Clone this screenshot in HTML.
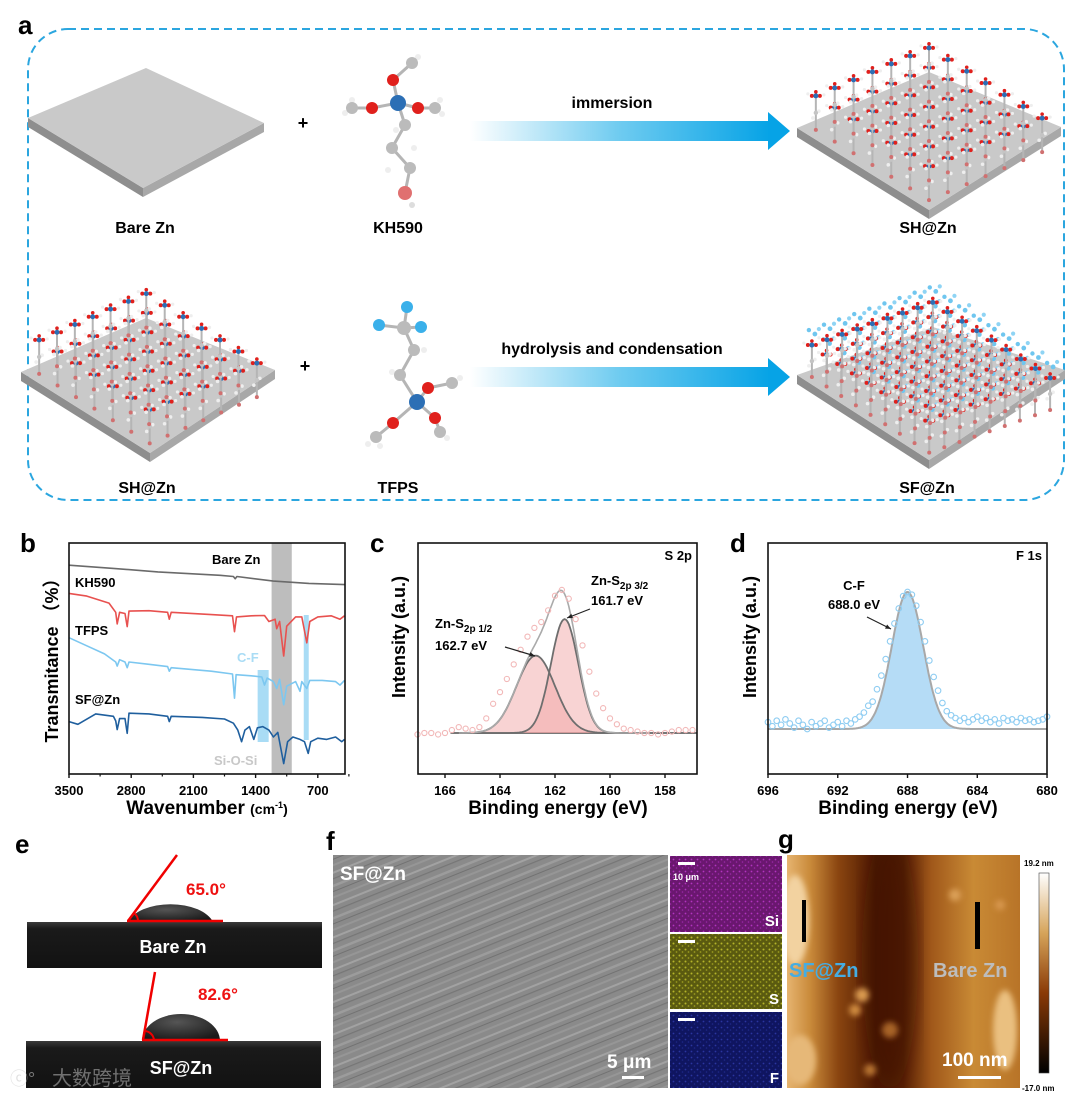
<!DOCTYPE html>
<html><head><meta charset="utf-8"><style>
html,body{margin:0;padding:0;background:#fff;}
svg{display:block;font-family:"Liberation Sans","Noto Sans CJK SC",sans-serif;}
.b{font-weight:bold;}
</style></head><body>
<svg id="fig" width="1080" height="1099" viewBox="0 0 1080 1099" xmlns="http://www.w3.org/2000/svg">
<defs>
<linearGradient id="arrowGrad" x1="0" x2="1" y1="0" y2="0"><stop offset="0" stop-color="#ffffff"/><stop offset="0.5" stop-color="#6ecbf0"/><stop offset="1" stop-color="#06a3e6"/></linearGradient>
<linearGradient id="afmGrad" x1="0" x2="1" y1="0" y2="0">
<stop offset="0" stop-color="#e6b470"/><stop offset="0.1" stop-color="#c98a3a"/><stop offset="0.22" stop-color="#8a4510"/><stop offset="0.38" stop-color="#4e1a02"/><stop offset="0.5" stop-color="#5a2204"/><stop offset="0.62" stop-color="#a0581a"/><stop offset="0.8" stop-color="#c98a35"/><stop offset="1" stop-color="#b87428"/></linearGradient>
<linearGradient id="cbGrad" x1="0" x2="0" y1="0" y2="1"><stop offset="0" stop-color="#ffffff"/><stop offset="0.3" stop-color="#d6a45a"/><stop offset="0.6" stop-color="#8a3a06"/><stop offset="1" stop-color="#000"/></linearGradient>
<linearGradient id="photoGrad" x1="0" x2="0" y1="0" y2="1"><stop offset="0" stop-color="#3a3a3a"/><stop offset="0.15" stop-color="#1a1a1a"/><stop offset="1" stop-color="#121212"/></linearGradient>
<radialGradient id="dropGrad" cx="0.45" cy="0.3" r="0.7"><stop offset="0" stop-color="#555"/><stop offset="1" stop-color="#1a1a1a"/></radialGradient>
<pattern id="semPat" width="90" height="30" patternUnits="userSpaceOnUse" patternTransform="rotate(-22)">
<rect width="90" height="30" fill="#8a8a8a"/><rect y="3" width="90" height="2" fill="#a2a2a2"/><rect y="9" width="90" height="1.2" fill="#767676"/><rect y="15" width="90" height="2.5" fill="#9c9c9c"/><rect y="21" width="90" height="1" fill="#727272"/><rect y="26" width="90" height="2" fill="#969696"/></pattern>
<pattern id="siPat" width="6" height="6" patternUnits="userSpaceOnUse"><rect width="6" height="6" fill="#6a176f"/><circle cx="1.5" cy="1.5" r="0.9" fill="#b233c0"/><circle cx="4.5" cy="4" r="0.8" fill="#9a28a8"/></pattern>
<pattern id="sPat" width="6" height="6" patternUnits="userSpaceOnUse"><rect width="6" height="6" fill="#5a5a10"/><circle cx="1.5" cy="1.5" r="1" fill="#b4b42a"/><circle cx="4.5" cy="4" r="0.9" fill="#9a9a1e"/></pattern>
<pattern id="fPat" width="6" height="6" patternUnits="userSpaceOnUse"><rect width="6" height="6" fill="#0f1560"/><circle cx="1.5" cy="1.5" r="0.9" fill="#2a35a0"/><circle cx="4.5" cy="4" r="0.8" fill="#1e2888"/></pattern>
<filter id="blur3"><feGaussianBlur stdDeviation="3"/></filter>
<filter id="blur8"><feGaussianBlur stdDeviation="9"/></filter>
<clipPath id="afmClip"><rect x="787" y="855" width="233" height="233"/></clipPath>
</defs>

<text class="b" x="18" y="34" font-size="26">a</text>
<rect x="28" y="29" width="1036" height="471" rx="40" fill="none" stroke="#2ba6df" stroke-width="2" stroke-dasharray="8,5"/>
<g id="slabs"></g>
<g id="mols"></g>
<text class="b" x="303" y="129" font-size="18" text-anchor="middle">+</text>
<text class="b" x="305" y="372" font-size="18" text-anchor="middle">+</text>
<g><rect x="470" y="121" width="300" height="20" fill="url(#arrowGrad)"/><polygon points="768,112 790,131 768,150" fill="#06a3e6"/></g>
<text x="612" y="108" font-size="16" text-anchor="middle" font-weight="bold">immersion</text>
<g><rect x="470" y="367" width="300" height="20" fill="url(#arrowGrad)"/><polygon points="768,358 790,377 768,396" fill="#06a3e6"/></g>
<text x="612" y="354" font-size="16" text-anchor="middle" font-weight="bold">hydrolysis and condensation</text>
<text class="b" x="145" y="233" font-size="16" text-anchor="middle">Bare Zn</text>
<text class="b" x="398" y="233" font-size="16" text-anchor="middle">KH590</text>
<text class="b" x="928" y="233" font-size="16" text-anchor="middle">SH@Zn</text>
<text class="b" x="147" y="493" font-size="16" text-anchor="middle">SH@Zn</text>
<text class="b" x="398" y="493" font-size="16" text-anchor="middle">TFPS</text>
<text class="b" x="927" y="493" font-size="16" text-anchor="middle">SF@Zn</text>

<text class="b" x="20" y="552" font-size="26">b</text>
<g id="ftir"></g>
<text class="b" x="370" y="552" font-size="26">c</text>
<g id="xpsS"></g>
<text class="b" x="730" y="552" font-size="26">d</text>
<g id="xpsF"></g>

<text class="b" x="15" y="853" font-size="26">e</text>
<g>
<path d="M128,922 A44,24 0 0 1 213,922 Z" fill="url(#dropGrad)"/>
<rect x="27" y="922" width="295" height="46" fill="url(#photoGrad)"/>
<line x1="128" y1="921" x2="177" y2="855" stroke="#f00000" stroke-width="2.5"/>
<line x1="127" y1="921" x2="223" y2="921" stroke="#f00000" stroke-width="2.5"/>
<path d="M138,921 A10,10 0 0 0 134,913" fill="none" stroke="#f00000" stroke-width="2"/>
<text class="b" x="186" y="895" font-size="17" fill="#ee1111">65.0°</text>
<text class="b" x="173" y="953" font-size="18" fill="#fff" text-anchor="middle">Bare Zn</text>
</g>
<g>
<path d="M142,1041 A39,27 0 0 1 220,1041 Z" fill="url(#dropGrad)"/>
<rect x="26" y="1041" width="295" height="47" fill="url(#photoGrad)"/>
<line x1="143" y1="1040" x2="155" y2="972" stroke="#f00000" stroke-width="2.5"/>
<line x1="142" y1="1040" x2="228" y2="1040" stroke="#f00000" stroke-width="2.5"/>
<path d="M154,1040 A10,10 0 0 0 145,1031" fill="none" stroke="#f00000" stroke-width="2"/>
<text class="b" x="198" y="1000" font-size="17" fill="#ee1111">82.6°</text>
<text class="b" x="181" y="1074" font-size="18" fill="#fff" text-anchor="middle">SF@Zn</text>
</g>
<g opacity="0.55"><text x="10" y="1085" font-size="18" fill="#ccc">ⓒ°</text><text x="52" y="1085" font-size="20" fill="#bbb">大数跨境</text></g>

<text class="b" x="326" y="850" font-size="26">f</text>
<rect x="333" y="855" width="335" height="233" fill="url(#semPat)"/>
<text class="b" x="340" y="880" font-size="19" fill="#fff">SF@Zn</text>
<text class="b" x="607" y="1068" font-size="19" fill="#fff">5 μm</text>
<rect x="622" y="1076" width="22" height="3" fill="#fff"/>
<rect x="670" y="856" width="112" height="76" fill="url(#siPat)"/>
<rect x="670" y="934" width="112" height="75" fill="url(#sPat)"/>
<rect x="670" y="1012" width="112" height="76" fill="url(#fPat)"/>
<rect x="678" y="862" width="17" height="3" fill="#fff"/>
<rect x="678" y="940" width="17" height="3" fill="#fff"/>
<rect x="678" y="1018" width="17" height="3" fill="#fff"/>
<text class="b" x="673" y="880" font-size="9" fill="#fff">10 μm</text>
<text class="b" x="779" y="926" font-size="15" fill="#fff" text-anchor="end">Si</text>
<text class="b" x="779" y="1004" font-size="15" fill="#fff" text-anchor="end">S</text>
<text class="b" x="779" y="1083" font-size="15" fill="#fff" text-anchor="end">F</text>

<text class="b" x="778" y="848" font-size="26">g</text>
<g clip-path="url(#afmClip)">
<rect x="787" y="855" width="233" height="233" fill="url(#afmGrad)"/>
<ellipse cx="890" cy="960" rx="28" ry="130" fill="#3a1000" opacity="0.5" filter="url(#blur8)"/>
<g filter="url(#blur3)">
<ellipse cx="795" cy="920" rx="14" ry="45" fill="#f2d2a0"/>
<ellipse cx="800" cy="1060" rx="16" ry="25" fill="#e6b878"/>
<circle cx="862" cy="995" r="7" fill="#d99a50"/><circle cx="855" cy="1010" r="6" fill="#d08c40"/>
<circle cx="890" cy="1030" r="8" fill="#a86428"/><circle cx="870" cy="1070" r="6" fill="#b87430"/>
<ellipse cx="1005" cy="1030" rx="12" ry="40" fill="#eac080"/>
<circle cx="955" cy="895" r="6" fill="#dba058"/><circle cx="1000" cy="905" r="5" fill="#d89850"/>
</g>
<rect x="802" y="900" width="4" height="42" fill="#000"/>
<rect x="975" y="902" width="5" height="47" fill="#000"/>
<text class="b" x="789" y="977" font-size="20" fill="#45ade3">SF@Zn</text>
<text class="b" x="933" y="977" font-size="20" fill="#bdbdbd">Bare Zn</text>
<text class="b" x="942" y="1066" font-size="19" fill="#fff">100 nm</text>
<rect x="958" y="1076" width="43" height="3" fill="#fff"/>
</g>
<rect x="1039" y="873" width="10" height="200" fill="url(#cbGrad)" stroke="#444" stroke-width="0.6"/>
<text class="b" x="1024" y="866" font-size="8">19.2 nm</text>
<text class="b" x="1022" y="1091" font-size="8">-17.0 nm</text>
</svg>
<script>
const ftirTicks = [3500, 2800, 2100, 1400, 700];
const bareZnWn = [3500,3000,2500,1800,1650,1630,1610,1200,800,400];
const bareZnT  = [90.4,89,87.5,86,85.5,84.5,85.5,83.5,82.5,82];
const kh590Wn = [3500,3300,3050,2975,2958,2930,2870,2845,2825,2600,2390,2371,2350,1900,1660,1637,1615,1450,1300,1250,1180,1163,1130,1084,1050,950,880,824,790,700,550,450,400];
const kh590T  = [78.2,77,74,70,65,70,69.5,63.8,70.5,70.7,70,67,70,69,68.5,61.6,68,68.5,68.6,66,67,62.9,66,51.1,64,68,68,56.8,66,68,68.5,67,68.5];
const tfpsWn = [3500,3300,3100,2975,2958,2930,2870,2845,2825,2600,2390,2371,2350,1900,1660,1637,1620,1450,1330,1300,1270,1200,1163,1130,1084,1050,950,900,880,824,790,650,500,450,400];
const tfpsT  = [59,55.5,52,48.5,46.7,49.5,48.5,46,48.5,47.5,46.5,44.5,46,44.5,43.3,32.8,43,42.5,42,38.5,41.5,40,37,41,30,38,40,35.8,40,37,40.5,40.5,40,38.5,40.5];
const sfznWn = [3500,3400,3200,3000,2975,2958,2930,2870,2845,2825,2600,2390,2371,2350,2000,1750,1650,1600,1558,1520,1470,1420,1380,1320,1250,1200,1150,1084,1040,980,900,850,808,780,700,600,500,430,400];
const sfznT  = [22.7,21.5,26,25,23,19.2,24,24,17.6,26.3,26,25,22.7,25,24.5,23.8,22,19,14,19,20.5,15,20,20.5,19,16,18,4.5,14,16,15,14,8.9,14,15.5,15,16,14,15];
const ftirBands = [[1220,993],[1377,1253],[858,802]];

const s2pE = [167,166.75,166.5,166.25,166,165.75,165.5,165.25,165,164.75,164.5,164.25,164,163.75,163.5,163.25,163,162.75,162.5,162.25,162,161.75,161.5,161.25,161,160.75,160.5,160.25,160,159.75,159.5,159.25,159,158.75,158.5,158.25,158,157.75,157.5,157.25,157];
const s2pI = [-1,0,0,-1,0,2,4,3,2,4,10,20,28,37,47,57,66,72,76,84,94,98,92,78,60,42,27,17,10,6,3,2,1,0,0,-1,0,1,2,2,2];
const s2pPeakCenters = [162.7, 161.65];
const s2pPeakHeights = [53, 78];
const s2pPeakSigmas = [0.7, 0.5];
const s2pTicks = [166,164,162,160,158];

const f1sE = [];
for (let e = 696; e >= 679.99; e -= 0.25) f1sE.push(+e.toFixed(2));
const f1sI = [5,2,6,3,7,4,1,6,3,0,5,2,4,6,1,3,5,2,6,4,7,9,12,17,20,29,39,51,64,77,88,97,100,98,90,78,64,50,38,28,19,13,10,8,6,8,5,7,9,6,8,5,7,4,8,6,7,5,8,6,7,5,6,7,9];
const f1sCenter = [688.0];
const f1sHeight = [100];
const f1sSigma = [0.9];
const f1sTicks = [696,692,688,684,680];

const NS = 'http://www.w3.org/2000/svg';
function mk(tag, attrs, parent) {
  const e = document.createElementNS(NS, tag);
  for (const k in attrs) e.setAttribute(k, attrs[k]);
  parent.appendChild(e);
  return e;
}

const slabs = document.getElementById('slabs');
const slabDefs = [[28,118,146,68,264,123,143,188],[797,128,929,72,1061,127,929,210],[21,372,146,318,275,370,150,453],[797,375,933,327,1065,370,929,460]];
slabDefs.forEach(s => {
  const t = 9;
  const l = mk('polygon', {points:`${s[0]},${s[1]} ${s[6]},${s[7]} ${s[6]},${s[7]+t} ${s[0]},${s[1]+t}`, fill:'#8e8e8e'}, slabs);
  
  
  const r = mk('polygon', {points:`${s[6]},${s[7]} ${s[4]},${s[5]} ${s[4]},${s[5]+t} ${s[6]},${s[7]+t}`, fill:'#a8a8a8'}, slabs);
  
  
  const top = mk('polygon', {points:`${s[0]},${s[1]} ${s[2]},${s[3]} ${s[4]},${s[5]} ${s[6]},${s[7]}`, fill:'#c9c9c9'}, slabs);
  
  
});
const mols = document.getElementById('mols');
function atom(x, y, r, c) {
  const a = mk('circle', {cx:x, cy:y, r:r, fill:c}, mols);
  
  
}
function bond(x1,y1,x2,y2,w){
  const b = mk('line', {x1:x1,y1:y1,x2:x2,y2:y2,stroke:'#b5b5b5','stroke-width':w||3}, mols);
  
  
}
[[398,103,372,108],[398,103,418,108],[398,103,393,80],[372,108,352,108],[418,108,435,108],[393,80,412,63],[398,103,405,125],[405,125,392,148],[392,148,410,168],[410,168,405,193]].forEach(b=>bond(...b));
[[352,100,3,'#eee'],[345,113,3,'#eee'],[440,100,3,'#eee'],[442,114,3,'#eee'],[418,57,3,'#eee'],[396,130,3,'#eee'],[414,148,3,'#eee'],[388,170,3,'#eee'],[412,205,3,'#ddd']].forEach(a=>atom(...a));
atom(352,108,6,'#bbb'); atom(435,108,6,'#bbb'); atom(412,63,6,'#bbb');
atom(372,108,6,'#e0201c'); atom(418,108,6,'#e0201c'); atom(393,80,6,'#e0201c');
atom(398,103,8,'#2c6fb5'); atom(405,125,6,'#bbb'); atom(392,148,6,'#bbb'); atom(410,168,6,'#bbb'); atom(405,193,7,'#e07070');
[[404,328,379,325],[404,328,407,307],[404,328,421,327],[404,328,414,350],[414,350,400,375],[400,375,417,402],[417,402,428,388],[428,388,452,383],[417,402,393,423],[393,423,376,437],[417,402,435,418],[435,418,440,432]].forEach(b=>bond(...b));
[[424,350,3,'#eee'],[392,372,3,'#eee'],[460,378,3,'#eee'],[368,444,3,'#eee'],[380,446,3,'#eee'],[447,438,3,'#eee']].forEach(a=>atom(...a));
atom(404,328,7,'#bbb'); atom(379,325,6,'#3ab0ea'); atom(407,307,6,'#3ab0ea'); atom(421,327,6,'#3ab0ea');
atom(414,350,6,'#bbb'); atom(400,375,6,'#bbb'); atom(428,388,6,'#e0201c'); atom(452,383,6,'#bbb');
atom(393,423,6,'#e0201c'); atom(376,437,6,'#bbb'); atom(435,418,6,'#e0201c'); atom(440,432,6,'#bbb'); atom(417,402,8,'#2c6fb5');
function layer(s, n, rise, withF) {
  const [lx,ly,tx,ty,rx,ry,bx,by] = s;
  for (let i=0;i<n;i++) for (let j=0;j<n;j++) {
    const u=(i+0.5)/n, v=(j+0.5)/n;
    const x = lx + (tx-lx)*u + (bx-lx)*v;
    const y = ly + (ty-ly)*u + (by-ly)*v;
    bond(x, y, x, y-rise, 2);
    atom(x, y, 2, '#d07070');
    atom(x-3, y-rise*0.35, 1.8, '#eee'); atom(x+3, y-rise*0.55, 1.8, '#eee');
    atom(x, y-rise*0.5, 2.2, '#c4c4c4');
    atom(x-4, y-rise, 2, '#e0201c'); atom(x+4, y-rise, 2, '#e0201c');
    atom(x, y-rise-4, 1.8, '#e0201c');
    atom(x, y-rise, 2.5, '#2c6fb5');
    atom(x-8, y-rise-2, 1.6, '#eee'); atom(x+8, y-rise-1, 1.6, '#eee');
    if (withF) { atom(x+3, y-rise-11, 2.4, '#6fc6ef'); atom(x-3, y-rise-15, 2.2, '#6fc6ef'); atom(x+7, y-rise-16, 2.1, '#8fd4f4'); }
  }
}
layer(slabDefs[1], 7, 34, false);
layer(slabDefs[2], 7, 34, false);
layer(slabDefs[3], 9, 32, true);

const ftir = document.getElementById('ftir');
const bL=69,bR=345,bT=543,bB=774;
const bx = wn => bL + (3500-wn)*(62.2/700);
const by = t => bB - t*(bB-bT)/100;
ftirBands.forEach((bd,i)=>{
  let y1=bT, y2=bB, fill='#bdbdbd';
  if (i===1){y1=670;y2=742;fill='#a9dcf5';}
  if (i===2){y1=615;y2=740;fill='#a9dcf5';}
  const r = mk('rect',{x:bx(bd[0]),y:y1,width:bx(bd[1])-bx(bd[0]),height:y2-y1,fill:fill},ftir);
  
  
});
function series(wns, ts, color, name){
  const p = mk('polyline',{points:wns.map((w,i)=>bx(w).toFixed(1)+','+by(ts[i]).toFixed(1)).join(' '),fill:'none',stroke:color,'stroke-width':1.6,'stroke-linejoin':'round'},ftir);
  
  
}
series(bareZnWn, bareZnT, '#6a6a6a', 'bare-zn-spectrum');
series(kh590Wn, kh590T, '#e8514f', 'kh590-spectrum');
series(tfpsWn, tfpsT, '#7cc7f0', 'tfps-spectrum');
series(sfznWn, sfznT, '#1f5f9e', 'sf-zn-spectrum');
const bbox = mk('rect',{x:bL,y:bT,width:bR-bL,height:bB-bT,fill:'none',stroke:'#111','stroke-width':1.6},ftir);


ftirTicks.forEach(t=>{
  const tk = mk('line',{x1:bx(t),x2:bx(t),y1:bB,y2:bB+4,stroke:'#111','stroke-width':1.4},ftir);
  
  
  const mt = mk('line',{x1:bx(t-350),x2:bx(t-350),y1:bB,y2:bB+2.5,stroke:'#111','stroke-width':1.2},ftir);
  
  
  const lb = mk('text',{x:bx(t),y:bB+21,'font-size':13,'font-weight':'bold','text-anchor':'middle'},ftir);
  lb.textContent = t;
  
  
});
function txt(parent, x, y, s, attrs, name){
  const t = mk('text', Object.assign({x:x,y:y,'font-weight':'bold'}, attrs), parent);
  t.textContent = s;
  
  
  return t;
}
const bxT = txt(ftir, 207, 814, '', {'font-size':19,'text-anchor':'middle'}, 'x-axis-title');
bxT.innerHTML = 'Wavenumber <tspan font-size="14">(cm</tspan><tspan font-size="9" dy="-6">-1</tspan><tspan font-size="14" dy="6">)</tspan>';
txt(ftir, 0, 0, 'Transmitance （%）', {'font-size':18,'text-anchor':'middle',transform:'translate(58,656) rotate(-90)'}, 'y-axis-title');
txt(ftir, 212, 564, 'Bare Zn', {'font-size':13}, 'bare-zn-label');
txt(ftir, 75, 587, 'KH590', {'font-size':13}, 'kh590-label');
txt(ftir, 75, 635, 'TFPS', {'font-size':13}, 'tfps-label');
txt(ftir, 75, 704, 'SF@Zn', {'font-size':13}, 'sf-zn-label');
txt(ftir, 237, 662, 'C-F', {'font-size':13,fill:'#a9dcf5'}, 'c-f-label');
txt(ftir, 214, 765, 'Si-O-Si', {'font-size':13,fill:'#c8c8c8'}, 'si-o-si-label');

const cS = document.getElementById('xpsS');
const cL=418,cR=697,cT=543,cB=774;
const cx = e => 445 + (166-e)*27.5;
const cy = i => 733 - i*1.46;
function gauss(e, c, h, s){ return h*Math.exp(-0.5*((e-c)/s)**2); }
const fitE = [];
for (let e=165.5; e>=158.5; e-=0.05) fitE.push(e);
const base = mk('line',{x1:cx(165.8),x2:cR,y1:cy(0),y2:cy(0),stroke:'#777','stroke-width':2},cS);


s2pPeakCenters.forEach((c,k)=>{
  const pts = fitE.map(e=>cx(e).toFixed(1)+','+cy(gauss(e,c,s2pPeakHeights[k],s2pPeakSigmas[k])).toFixed(1));
  const f = mk('polygon',{points:pts.join(' ')+` ${cx(158.5)},${cy(0)} ${cx(165.5)},${cy(0)}`,fill:'#f2a8a8','fill-opacity':0.5},cS);
  
  
});
s2pPeakCenters.forEach((c,k)=>{
  const pts = fitE.map(e=>cx(e).toFixed(1)+','+cy(gauss(e,c,s2pPeakHeights[k],s2pPeakSigmas[k])).toFixed(1));
  const l = mk('polyline',{points:pts.join(' '),fill:'none',stroke:'#6e6e6e','stroke-width':1.8},cS);
  
  
});
const envPts = fitE.map(e=>cx(e).toFixed(1)+','+cy(s2pPeakCenters.reduce((a,c,k)=>a+gauss(e,c,s2pPeakHeights[k],s2pPeakSigmas[k]),0)).toFixed(1));
const env = mk('polyline',{points:envPts.join(' '),fill:'none',stroke:'#aaa','stroke-width':1.6},cS);


s2pE.forEach((e,i)=>{
  const p = mk('circle',{cx:cx(e),cy:cy(s2pI[i]),r:2.6,fill:'none',stroke:'#f2b8b8','stroke-width':1.1},cS);
  
  
});
const cbox = mk('rect',{x:cL,y:cT,width:cR-cL,height:cB-cT,fill:'none',stroke:'#111','stroke-width':1.6},cS);


s2pTicks.forEach(t=>{
  const tk = mk('line',{x1:cx(t),x2:cx(t),y1:cB,y2:cB+4,stroke:'#111','stroke-width':1.4},cS);
  
  
  txt(cS, cx(t), cB+21, t, {'font-size':13,'text-anchor':'middle'}, 'x-tick-label');
});
txt(cS, 558, 814, 'Binding energy (eV)', {'font-size':19,'text-anchor':'middle'}, 'x-axis-title');
txt(cS, 0, 0, 'Intensity (a.u.)', {'font-size':18,'text-anchor':'middle',transform:'translate(405,637) rotate(-90)'}, 'y-axis-title');
txt(cS, 692, 560, 'S 2p', {'font-size':13,'text-anchor':'end'}, 'spectrum-label');
const l32 = txt(cS, 591, 585, '', {'font-size':13}, 's2p-3-2-label');
l32.innerHTML = 'Zn-S<tspan font-size="10" dy="4">2p 3/2</tspan>';
txt(cS, 591, 605, '161.7 eV', {'font-size':13}, 's2p-3-2-value');
const l12 = txt(cS, 435, 628, '', {'font-size':13}, 's2p-1-2-label');
l12.innerHTML = 'Zn-S<tspan font-size="10" dy="4">2p 1/2</tspan>';
txt(cS, 435, 650, '162.7 eV', {'font-size':13}, 's2p-1-2-value');
function arrow(parent, x1,y1,x2,y2,name){
  const g = mk('g',{},parent);
  
  
  mk('line',{x1:x1,y1:y1,x2:x2,y2:y2,stroke:'#222','stroke-width':1.2},g);
  const a = Math.atan2(y2-y1,x2-x1), L=6;
  mk('polygon',{points:`${x2},${y2} ${x2-L*Math.cos(a-0.4)},${y2-L*Math.sin(a-0.4)} ${x2-L*Math.cos(a+0.4)},${y2-L*Math.sin(a+0.4)}`,fill:'#222'},g);
}
arrow(cS, 590,609, 567,618, 's2p-3-2-arrow');
arrow(cS, 505,647, 535,656, 's2p-1-2-arrow');

const dF = document.getElementById('xpsF');
const dL=768,dR=1047,dT=543,dB=774;
const dx = e => 768 + (696-e)*17.44;
const dy = i => 729 - i*1.37;
const fE = [];
for (let e=696; e>=680; e-=0.05) fE.push(e);
const fPts = fE.map(e=>dx(e).toFixed(1)+','+dy(gauss(e,f1sCenter[0],f1sHeight[0],f1sSigma[0])).toFixed(1));
const farea = mk('polygon',{points:fPts.join(' ')+` ${dx(680)},${dy(0)} ${dx(696)},${dy(0)}`,fill:'#b5dcf6'},dF);


const ffit = mk('polyline',{points:fPts.join(' '),fill:'none',stroke:'#a8a8a8','stroke-width':2},dF);


f1sE.forEach((e,i)=>{
  const p = mk('circle',{cx:dx(e),cy:dy(f1sI[i]),r:2.8,fill:'none',stroke:'#8fcdf2','stroke-width':1.1},dF);
  
  
});
const dbox = mk('rect',{x:dL,y:dT,width:dR-dL,height:dB-dT,fill:'none',stroke:'#111','stroke-width':1.6},dF);


f1sTicks.forEach(t=>{
  const tk = mk('line',{x1:dx(t),x2:dx(t),y1:dB,y2:dB+4,stroke:'#111','stroke-width':1.4},dF);
  
  
  txt(dF, dx(t), dB+21, t, {'font-size':13,'text-anchor':'middle'}, 'x-tick-label');
});
txt(dF, 908, 814, 'Binding energy (eV)', {'font-size':19,'text-anchor':'middle'}, 'x-axis-title');
txt(dF, 0, 0, 'Intensity (a.u.)', {'font-size':18,'text-anchor':'middle',transform:'translate(756,637) rotate(-90)'}, 'y-axis-title');
txt(dF, 1042, 560, 'F 1s', {'font-size':13,'text-anchor':'end'}, 'spectrum-label');
txt(dF, 854, 590, 'C-F', {'font-size':13,'text-anchor':'middle'}, 'c-f-peak-label');
txt(dF, 854, 609, '688.0 eV', {'font-size':13,'text-anchor':'middle'}, 'c-f-peak-value');
arrow(dF, 867,617, 891,629, 'c-f-arrow');
</script>
</body></html>
